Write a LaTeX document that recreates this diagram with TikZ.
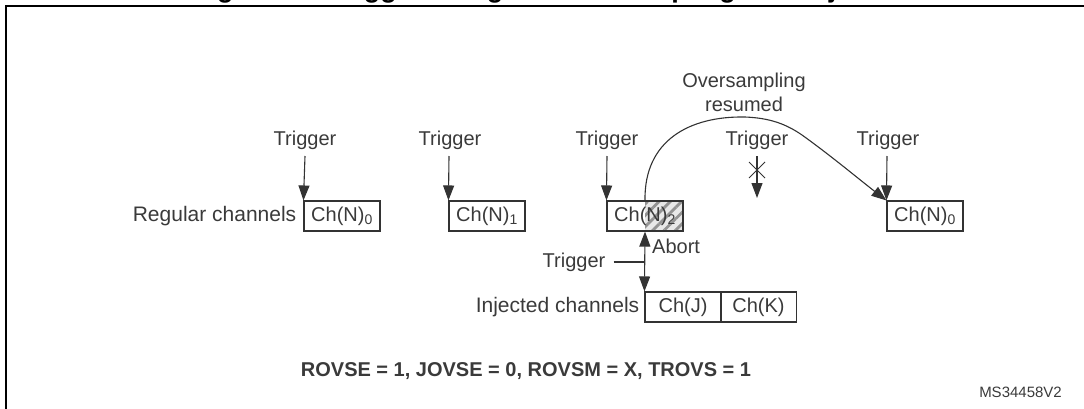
\documentclass[tikz,border=0pt]{standalone}
\usepackage{fontspec}
\setmainfont{Liberation Sans}
\usetikzlibrary{arrows.meta,patterns.meta,positioning}
\definecolor{ink}{HTML}{333333}
\definecolor{txt}{HTML}{3A3A3A}
\tikzset{
  chbox/.style={draw=ink, line width=1.1pt, minimum width=76pt, minimum height=30pt, inner sep=0pt, font=\fontsize{20}{22}\selectfont, text=txt},
  lbl/.style={inner sep=0pt, font=\fontsize{20}{22}\selectfont, text=txt},
  biglbl/.style={inner sep=0pt, font=\fontsize{21}{23}\selectfont, text=txt},
  conn/.style={draw=ink, line width=1.1pt},
  tip/.style={-{Triangle[length=15pt,width=11pt]}},
  frame/.style={draw=black, line width=2.2pt}
}
\begin{document}
\begin{tikzpicture}[x=1pt,y=-1pt]
\useasboundingbox (0,0) rectangle (1084,408);
\clip (0,0) rectangle (1084,408);
% title, cut off at the top edge as in the reference
\node[anchor=base west, inner sep=0pt, font=\fontsize{27}{30}\selectfont\bfseries, text=black] (title) at (193,-3) {Figure 86. Triggered regular oversampling with injection};
% frame
\draw[frame] (6,430) -- (6,6) -- (1100,6);

% regular channel boxes
\node[chbox] (n0) at (342,216) {Ch(N)\textsubscript{0}};
\node[chbox] (n1) at (487,216) {Ch(N)\textsubscript{1}};
\fill[gray!18] (645,201) rectangle (683,231);
\begin{scope}
\clip (645,201) rectangle (683,231);
\fill[pattern={Lines[angle=45,distance=8pt,line width=2.8pt]}, pattern color=gray!85] (645,201) rectangle (683,231);
\end{scope}
\node[chbox] (n2) at (645,216) {Ch(N)\textsubscript{2}};
\node[chbox] (n3) at (925,216) {Ch(N)\textsubscript{0}};

\node[biglbl, anchor=east] (reg) at ([xshift=-7pt]n0.west) {Regular channels};

% triggers
\node[lbl] (t0) at (305,140) {Trigger};
\node[lbl] (t1) at (450,140) {Trigger};
\node[lbl] (t2) at (607,140) {Trigger};
\node[lbl] (t3) at (757,140) {Trigger};
\node[lbl] (t4) at (888,140) {Trigger};
\coordinate (s0) at (305,156);
\coordinate (s1) at (449,156);
\coordinate (s2) at (607,156);
\coordinate (s3) at (757,156);
\coordinate (s4) at (887,156);
\coordinate (e3) at (757,198);
\draw[conn, tip] (s0) -- (n0.north west);
\draw[conn, tip] (s1) -- (n1.north west);
\draw[conn, tip] (s2) -- (n2.north west);
\draw[conn, tip] (s3) -- (e3);
\draw[conn, tip] (s4) -- (n3.north west);
% cross mark
\coordinate (x0) at (757,170);
\draw[conn, line width=1pt] ([shift={(-8,-8)}]x0) -- ([shift={(8,8)}]x0);
\draw[conn, line width=1pt] ([shift={(-8,8)}]x0) -- ([shift={(8,-8)}]x0);

% oversampling resumed curve
\node[lbl, align=center, font=\fontsize{20}{24}\selectfont] (ovs) at (744,92) {Oversampling\\resumed};
\draw[conn, tip] (n2.north) .. controls (644,140) and (690,116) .. (745,117)
   .. controls (770,118) and (786,124) .. (802,135)
   .. controls (830,155) and (860,180) .. (n3.north west);

% injected channels
\node[chbox] (j) at (683,307) {Ch(J)};
\node[chbox] (k) at (758.5,307) {Ch(K)};
\node[biglbl, anchor=east] (inj) at ([xshift=-5pt]j.west) {Injected channels};
\draw[conn, {Triangle[length=15pt,width=11pt]}-{Triangle[length=15pt,width=11pt]}] (n2.south) -- (j.north west);
\node[lbl] (tj) at (574,262) {Trigger};
\coordinate (tjm) at (645,262);
\draw[conn] ([xshift=8pt]tj.east) -- (tjm);
\node[lbl, anchor=west] (abort) at (652,246) {Abort};

% bottom texts
\node[lbl, font=\fontsize{20}{22}\selectfont\bfseries] (cfg) at (526,371) {ROVSE = 1, JOVSE = 0, ROVSM = X, TROVS = 1};
\node[lbl, font=\fontsize{15}{17}\selectfont, anchor=east] (ms) at (1062,392) {MS34458V2};
\end{tikzpicture}
\end{document}
